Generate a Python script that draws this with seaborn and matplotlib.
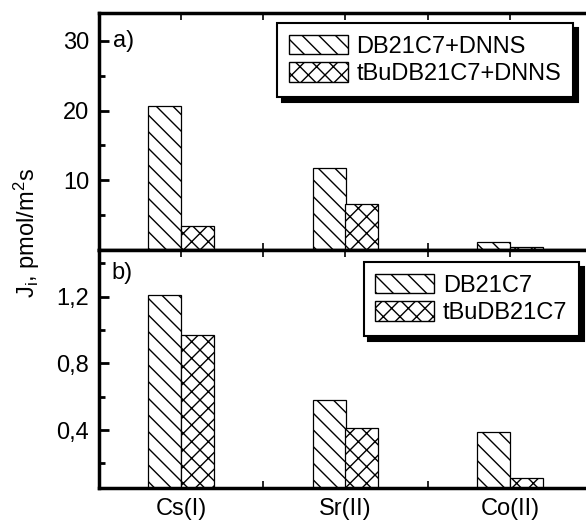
import matplotlib
matplotlib.use("Agg")
import matplotlib.pyplot as plt
import seaborn as sns
import pandas as pd
from matplotlib.patches import Patch
from matplotlib.ticker import FixedLocator

# data
ions = ["Cs(I)", "Sr(II)", "Co(II)"]

series_a = ["DB21C7+DNNS", "tBuDB21C7+DNNS"]
flux_a_db = [20.6, 11.7, 1.1]
flux_a_tbu = [3.4, 6.6, 0.45]

series_b = ["DB21C7", "tBuDB21C7"]
flux_b_db = [1.21, 0.58, 0.39]
flux_b_tbu = [0.97, 0.41, 0.115]

yticks_a = [10, 20, 30]
yticks_b = [0.4, 0.8, 1.2]
ytick_labels_b = ["0,4", "0,8", "1,2"]

hatches = ["\\\\", "xx"]

sns.set_style("ticks")
plt.rcParams['font.family'] = ['Liberation Sans', 'DejaVu Sans']
plt.rcParams['mathtext.fontset'] = 'custom'
plt.rcParams['mathtext.rm'] = 'Liberation Sans'
plt.rcParams['mathtext.it'] = 'Liberation Sans'
for key in ['text.color', 'axes.labelcolor', 'xtick.color', 'ytick.color', 'axes.edgecolor']:
    plt.rcParams[key] = 'black'
plt.rcParams['hatch.color'] = 'black'
plt.rcParams['hatch.linewidth'] = 1.0
FS = 17


def make_frame(series, v1, v2):
    return pd.DataFrame({
        "ion": ions * 2,
        "series": [series[0]] * len(ions) + [series[1]] * len(ions),
        "flux": v1 + v2,
    })


def draw_panel(ax, df, order):
    sns.barplot(data=df, x="ion", y="flux", hue="series", order=ions, hue_order=order,
                width=0.4, gap=0, palette=["white", "white"], edgecolor="black",
                linewidth=0.9, errorbar=None, legend=False, ax=ax)
    for cont, h in zip(ax.containers, hatches):
        for bar in cont:
            bar.set_hatch(h)
    ax.set_xlim(-0.5, 2.5)
    ax.set_xlabel("")
    ax.set_ylabel("")
    for s in ax.spines.values():
        s.set_linewidth(2.5)
    ax.xaxis.set_minor_locator(FixedLocator([-0.5, 0.5, 1.5, 2.5]))
    ax.tick_params(which="both", direction="in", width=2, top=True, right=False,
                   labelsize=FS, pad=7)
    ax.tick_params(which="major", length=7)
    ax.tick_params(which="minor", length=4)
    ax.tick_params(axis="x", which="both", length=5, width=1.2)
    handles = [Patch(facecolor="white", edgecolor="black", hatch=h, linewidth=1) for h in hatches]
    return handles


fig = plt.figure(figsize=(5.86, 5.2), dpi=100)
W, H = 586, 520
ax_a = fig.add_axes([99 / W, 1 - 250 / H, (592 - 99) / W, (250 - 13) / H])
ax_b = fig.add_axes([99 / W, 1 - 488 / H, (592 - 99) / W, (488 - 250) / H])

h_a = draw_panel(ax_a, make_frame(series_a, flux_a_db, flux_a_tbu), series_a)
ax_a.set_ylim(0, 34)
ax_a.set_yticks(yticks_a)
ax_a.yaxis.set_minor_locator(FixedLocator([5, 15, 25]))
ax_a.tick_params(axis="x", labelbottom=False)

h_b = draw_panel(ax_b, make_frame(series_b, flux_b_db, flux_b_tbu), series_b)
ax_b.set_ylim(0.052, 1.48)
ax_b.set_yticks(yticks_b)
ax_b.set_yticklabels(ytick_labels_b)
ax_b.yaxis.set_minor_locator(FixedLocator([0.2, 0.6, 1.0, 1.4]))

leg_kw = dict(fontsize=FS, frameon=True, fancybox=False, edgecolor="black",
              handlelength=2.5, handleheight=0.9, handletextpad=0.35, labelspacing=0.2,
              borderpad=0.5, borderaxespad=0, bbox_transform=fig.transFigure,
              loc="upper right",
              shadow={"ox": 3.5, "oy": -3.5, "color": "black", "alpha": 1})
lg = ax_a.legend(h_a, series_a, bbox_to_anchor=(573 / W, 1 - 23 / H), **leg_kw)
lg.get_frame().set_linewidth(1.5)
lg = ax_b.legend(h_b, series_b, bbox_to_anchor=(579 / W, 1 - 262 / H), **leg_kw)
lg.get_frame().set_linewidth(1.5)

fig.text(113 / W, 1 - 41 / H, "a)", fontsize=FS, va="center", ha="left")
fig.text(111 / W, 1 - 273 / H, "b)", fontsize=FS, va="center", ha="left")
fig.text(27 / W, 1 - 233 / H, r"J$_i$, pmol/m$^2$s", fontsize=FS, rotation=90,
         va="center", ha="center")

fig.savefig("out.png", dpi=100)
